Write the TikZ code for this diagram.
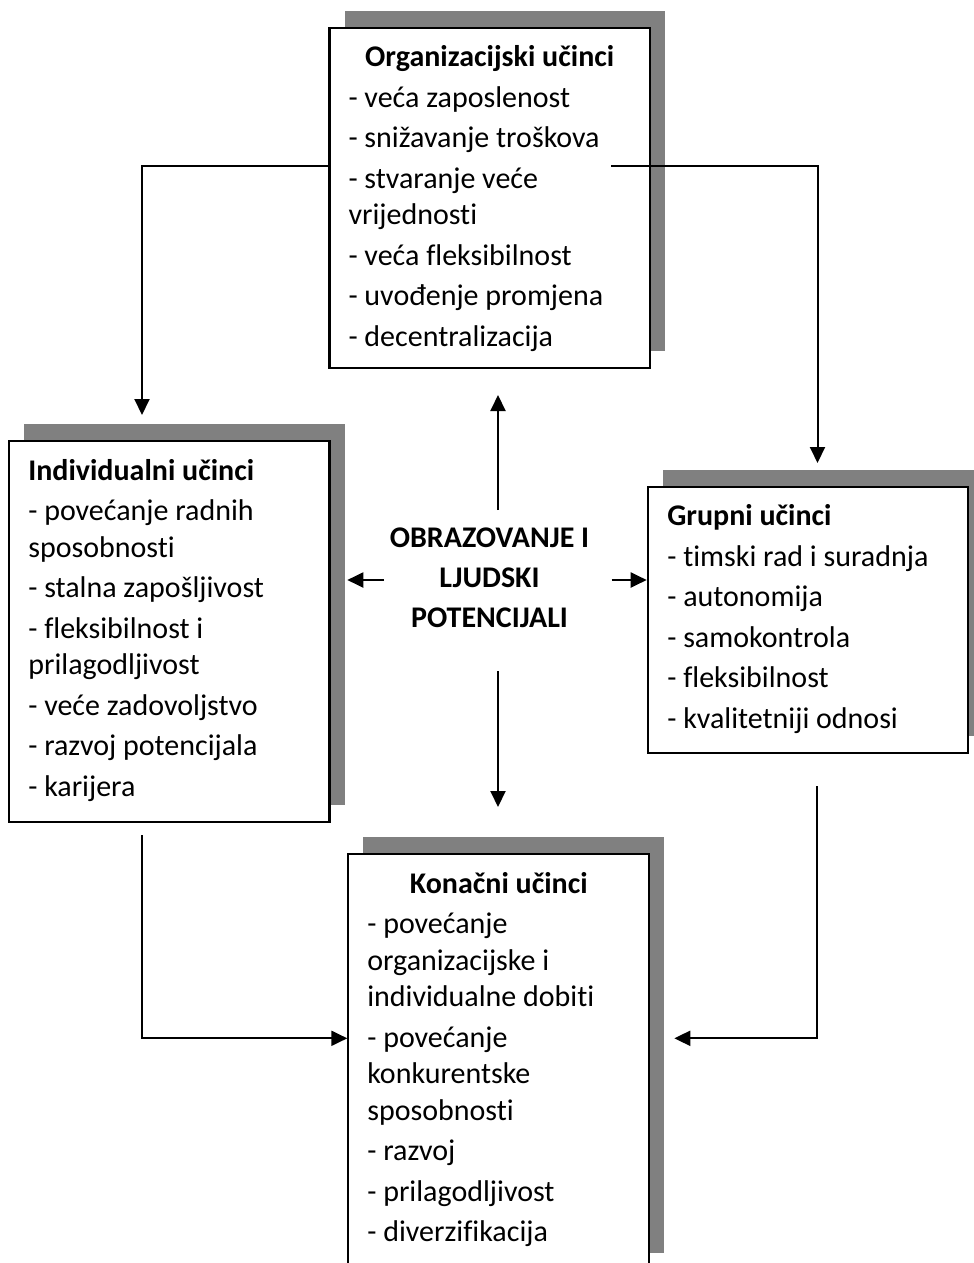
\documentclass[tikz,border=0pt]{standalone}
\usepackage{fontspec}
\setmainfont{Carlito}[Ligatures=NoCommon]
\usepackage{tikz}
\usetikzlibrary{shadows, calc, arrows.meta}

% Inhalt eines Kastens: Hoehe, Breite, Text.
\newcommand{\kasten}[3]{\parbox[t][#1][t]{#2}{\raggedright\parskip=2pt\relax #3}}
\newcommand{\kopf}[1]{\rule{0pt}{14pt}\textbf{#1}}

\begin{document}
\begin{tikzpicture}[x=.5pt, y=-.5pt, line width=1pt,
    kasten/.style={draw, fill=white, line width=1.1pt, outer sep=0pt,
        inner xsep=9.5pt, inner ysep=5.5pt, anchor=north west,
        font=\fontsize{15}{18.25}\selectfont,
        drop shadow={shadow xshift=7.5pt, shadow yshift=8.5pt, fill=gray, opacity=1}},
    pfeil/.style={-{Triangle[length=8pt, width=7.5pt]}}]
    \clip (0,0) rectangle (974,1263);

    % Kaesten.
    \node[kasten] (org) at (329.5,28) {\kasten{159pt}{141.25pt}{%
        {\centering\kopf{Organizacijski učinci}\par}
        - veća zaposlenost\par
        - snižavanje troškova\par
        - stvaranje veće\\ vrijednosti\par
        - veća fleksibilnost\par
        - uvođenje promjena\par
        - decentralizacija\par}};
    \node[kasten] (indiv) at (9.3,441) {\kasten{179.35pt}{141.1pt}{%
        \kopf{Individualni učinci}\par
        - povećanje radnih\\ sposobnosti\par
        - stalna zapošljivost\par
        - fleksibilnost i\\ prilagodljivost\par
        - veće zadovoljstvo\par
        - razvoj potencijala\par
        - karijera\par}};
    \node[kasten] (grup) at (648.3,486.7) {\kasten{122.3pt}{141pt}{%
        \kopf{Grupni učinci}\par
        - timski rad i suradnja\par
        - autonomija\par
        - samokontrola\par
        - fleksibilnost\par
        - kvalitetniji odnosi\par}};
    \node[kasten] (kon) at (348.3,854) {\kasten{197pt}{131.5pt}{%
        {\centering\kopf{Konačni učinci}\par}
        - povećanje\\ organizacijske i\\ individualne dobiti\par
        - povećanje\\ konkurentske\\ sposobnosti\par
        - razvoj\par
        - prilagodljivost\par
        - diverzifikacija\par}};

    % Mitte.
    \node[align=center, inner sep=0pt, font=\bfseries\fontsize{15}{20.1}\selectfont] (obr) at (489.5,578)
        {OBRAZOVANJE I\\ LJUDSKI\\ POTENCIJALI};

    % Pfeile aus der Mitte.
    \draw[pfeil] ($(obr.center)+(8.5,-68)$) -- ($(org.south)+(8.25,27)$);
    \draw[pfeil] ($(obr.center)+(8.5,93)$) -- ($(kon.north)+(-0.8,-47)$);
    \draw[pfeil, shorten >=8.9pt] ($(obr.center)+(-105.5,2)$) -- ($(obr.center -| indiv.east)+(0,2)$);
    \draw[pfeil, shorten >=.8pt] ($(obr.center)+(122.2,2)$) -- ($(obr.center -| grup.west)+(0,2)$);

    % Verbindungen zwischen den Kaesten.
    \draw[pfeil, shorten >=13pt] ($(org.west)+(0,-32)$) -| ($(indiv.north)+(-27.4,0)$);
    \draw[pfeil, shorten >=11.85pt] ($(org.east)+(-39,-32)$) -| ($(grup.north)+(9.2,0)$);
    \draw[pfeil, shorten >=.5pt] ($(indiv.south)+(-27.7,13.3)$) |- ($(kon.west)+(0,-23.7)$);
    \draw[pfeil, shorten >=12.5pt] ($(grup.south)+(9,32.7)$) |- ($(kon.east)+(0,-23.7)$);
\end{tikzpicture}
\end{document}
